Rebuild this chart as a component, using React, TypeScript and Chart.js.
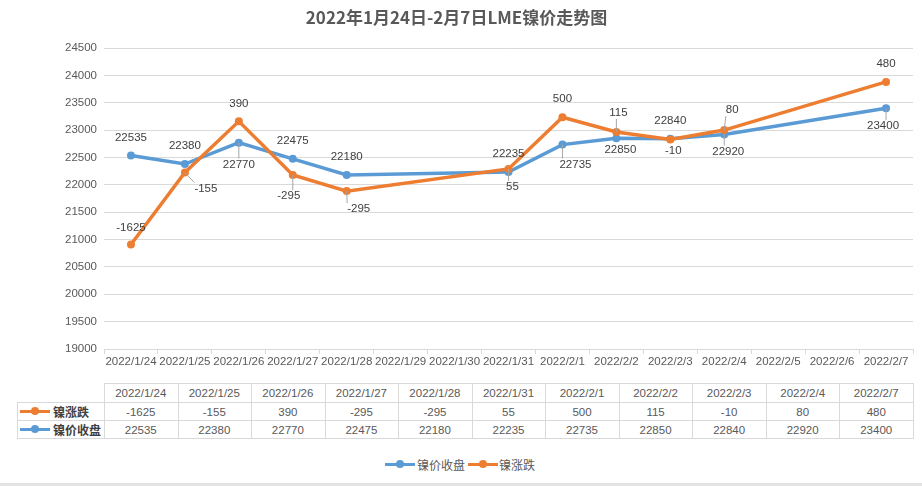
import React, { useEffect, useRef } from 'react';
import { Chart, registerables } from 'chart.js';

Chart.register(...registerables);

// ---------- data ----------
const TITLE = '2022年1月24日-2月7日LME镍价走势图';
const SERIES_CLOSE = '镍价收盘';
const SERIES_CHANGE = '镍涨跌';

const axisDates = [
  '2022/1/24', '2022/1/25', '2022/1/26', '2022/1/27', '2022/1/28', '2022/1/29', '2022/1/30',
  '2022/1/31', '2022/2/1', '2022/2/2', '2022/2/3', '2022/2/4', '2022/2/5', '2022/2/6', '2022/2/7',
];
const tradeDates = [
  '2022/1/24', '2022/1/25', '2022/1/26', '2022/1/27', '2022/1/28', '2022/1/31',
  '2022/2/1', '2022/2/2', '2022/2/3', '2022/2/4', '2022/2/7',
];
const closeValues = [22535, 22380, 22770, 22475, 22180, 22235, 22735, 22850, 22840, 22920, 23400];
const changeValues = [-1625, -155, 390, -295, -295, 55, 500, 115, -10, 80, 480];

const Y_MIN = 19000;
const Y_MAX = 24500;
const Y_STEP = 500;

// ---------- style ----------
const BLUE = '#5B9BD5';
const ORANGE = '#ED7D31';
const GRID = '#D9D9D9';
const TEXT = '#595959';
const NUM_FONT = '"Liberation Sans", Arial, sans-serif';
const CJK_FONT = '"Noto Sans CJK SC", "Noto Sans", sans-serif';

// label placement per point: [dx, dy, leaderLine]
const closeLabelPlace: [number, number, boolean][] = [
  [0, -18, false], [0, -18, false], [0, 22, true], [0, -18, false], [0, -18, false], [0, -18, false],
  [13, 20, true], [4, 12, false], [0, -18, false], [4, 17, true], [-3, 18, true],
];
const changeLabelPlace: [number, number, boolean][] = [
  [0, -17, false], [21, 16, true], [0, -18, false], [-4, 21, true], [12, 18, true], [4, 18, true],
  [0, -18, false], [2, -19, true], [3, 11, false], [8, -20, true], [0, -18, false],
];

const labelPlugin = {
  id: 'pointValueLabels',
  afterDatasetsDraw(chart: any) {
    const ctx = chart.ctx as CanvasRenderingContext2D;
    ctx.save();
    ctx.font = `11.5px ${NUM_FONT}`;
    ctx.textAlign = 'center';
    ctx.textBaseline = 'middle';
    chart.data.datasets.forEach((ds: any, di: number) => {
      const meta = chart.getDatasetMeta(di);
      const places = ds.labelPlace as [number, number, boolean][];
      const texts = ds.labelTexts as number[];
      meta.data.forEach((el: any, i: number) => {
        const [dx, dy, leader] = places[i];
        const txt = String(texts[i]);
        const lx = el.x + dx;
        const ly = el.y + dy;
        if (leader) {
          const w = ctx.measureText(txt).width;
          const h = 12;
          const tx = Math.max(lx - w / 2, Math.min(el.x, lx + w / 2));
          const ty = Math.max(ly - h / 2, Math.min(el.y, ly + h / 2));
          ctx.strokeStyle = '#A6A6A6';
          ctx.lineWidth = 1;
          ctx.beginPath();
          ctx.moveTo(el.x, el.y);
          ctx.lineTo(tx, ty);
          ctx.stroke();
        }
        ctx.fillStyle = '#404040';
        ctx.fillText(txt, lx, ly);
      });
    });
    ctx.restore();
  },
};

const COLS = tradeDates.length;
const TABLE_LEFT = 104;
const TABLE_RIGHT = 913;
const COL_W = (TABLE_RIGHT - TABLE_LEFT) / COLS;
const ROWS_Y = [383, 402, 420, 438];

function Marker({ color, left, top }: { color: string; left: number; top: number }) {
  return (
    <div style={{ position: 'absolute', left, top: top - 6, width: 30, height: 12 }}>
      <div style={{ position: 'absolute', left: 0, top: 4.5, width: 30, height: 3, background: color }} />
      <div
        style={{
          position: 'absolute', left: 11, top: 2, width: 8, height: 8, borderRadius: 4, background: color,
        }}
      />
    </div>
  );
}

export default function App() {
  const ref = useRef<HTMLCanvasElement>(null);

  useEffect(() => {
    const closeData = tradeDates.map((d, i) => ({ x: d, y: closeValues[i] }));
    const changeData = tradeDates.map((d, i) => ({ x: d, y: closeValues[i] + changeValues[i] }));
    const chart = new Chart(ref.current as HTMLCanvasElement, {
      type: 'line',
      data: {
        labels: axisDates,
        datasets: [
          {
            label: SERIES_CLOSE,
            data: closeData,
            borderColor: BLUE,
            backgroundColor: BLUE,
            borderWidth: 3.5,
            pointRadius: 4,
            pointBorderWidth: 0,
            pointBackgroundColor: BLUE,
            tension: 0,
            order: 1,
            labelPlace: closeLabelPlace,
            labelTexts: closeValues,
          } as any,
          {
            label: SERIES_CHANGE,
            data: changeData,
            borderColor: ORANGE,
            backgroundColor: ORANGE,
            borderWidth: 3.5,
            pointRadius: 4,
            pointBorderWidth: 0,
            pointBackgroundColor: ORANGE,
            tension: 0,
            order: 0,
            labelPlace: changeLabelPlace,
            labelTexts: changeValues,
          } as any,
        ],
      },
      options: {
        responsive: false,
        animation: false,
        layout: { padding: { left: 0, right: 9, top: 0, bottom: 0 } },
        plugins: {
          legend: { display: false },
          tooltip: { enabled: false },
          title: {
            display: true,
            text: TITLE,
            color: TEXT,
            font: { family: CJK_FONT, size: 17, weight: 'bold', lineHeight: 1.2 },
            padding: { top: 7, bottom: 20.6 },
          },
        },
        scales: {
          x: {
            type: 'category',
            offset: true,
            grid: { offset: true, drawOnChartArea: false, drawTicks: true, tickLength: 5, color: GRID },
            border: { display: true, color: GRID },
            ticks: {
              autoSkip: false, maxRotation: 0, minRotation: 0, padding: 1, color: TEXT,
              font: { family: NUM_FONT, size: 11.5 },
            },
            afterFit: (s: any) => { s.height = 31; },
          },
          y: {
            min: Y_MIN,
            max: Y_MAX,
            ticks: {
              stepSize: Y_STEP, padding: 7, color: TEXT, font: { family: NUM_FONT, size: 11.5 },
              callback: (v: any) => String(v),
            },
            grid: { color: GRID, drawTicks: false },
            border: { display: false },
            afterFit: (s: any) => { s.width = 104; },
          },
        },
      } as any,
      plugins: [labelPlugin],
    });
    return () => chart.destroy();
  }, []);

  const cellText: React.CSSProperties = {
    position: 'absolute', display: 'flex', alignItems: 'center', justifyContent: 'center',
    font: `11.5px ${NUM_FONT}`, color: TEXT, whiteSpace: 'nowrap',
  };

  return (
    <div style={{ position: 'absolute', left: 0, top: 0, width: 922, height: 486, background: '#fff', overflow: 'hidden' }}>
      <canvas ref={ref} width={922} height={380} style={{ position: 'absolute', left: 0, top: 0, width: 922, height: 380 }} />

      {/* data table lines */}
      <div style={{ position: 'absolute', left: TABLE_LEFT, top: ROWS_Y[0], width: TABLE_RIGHT - TABLE_LEFT + 1, height: 1, background: GRID }} />
      {ROWS_Y.slice(1).map((y) => (
        <div key={'h' + y} style={{ position: 'absolute', left: 17, top: y, width: TABLE_RIGHT - 17 + 1, height: 1, background: GRID }} />
      ))}
      <div style={{ position: 'absolute', left: 17, top: ROWS_Y[1], width: 1, height: ROWS_Y[3] - ROWS_Y[1] + 1, background: GRID }} />
      {Array.from({ length: COLS + 1 }, (_, j) => (
        <div key={'v' + j} style={{ position: 'absolute', left: Math.round(TABLE_LEFT + j * COL_W), top: ROWS_Y[0], width: 1, height: ROWS_Y[3] - ROWS_Y[0] + 1, background: GRID }} />
      ))}

      {/* data table texts */}
      {tradeDates.map((d, j) => (
        <div key={'d' + j} style={{ ...cellText, left: TABLE_LEFT + j * COL_W, top: ROWS_Y[0] + 1, width: COL_W, height: ROWS_Y[1] - ROWS_Y[0] - 1 }}>{d}</div>
      ))}
      {changeValues.map((v, j) => (
        <div key={'c' + j} style={{ ...cellText, left: TABLE_LEFT + j * COL_W, top: ROWS_Y[1] + 1, width: COL_W, height: ROWS_Y[2] - ROWS_Y[1] - 1 }}>{v}</div>
      ))}
      {closeValues.map((v, j) => (
        <div key={'p' + j} style={{ ...cellText, left: TABLE_LEFT + j * COL_W, top: ROWS_Y[2] + 1, width: COL_W, height: ROWS_Y[3] - ROWS_Y[2] - 1 }}>{v}</div>
      ))}

      {/* table series keys */}
      <Marker color={ORANGE} left={20} top={411} />
      <div style={{ position: 'absolute', left: 53, top: 402, height: 18, display: 'flex', alignItems: 'center', font: `bold 12px ${CJK_FONT}`, color: '#404040', whiteSpace: 'nowrap' }}>{SERIES_CHANGE}</div>
      <Marker color={BLUE} left={20} top={429} />
      <div style={{ position: 'absolute', left: 53, top: 420, height: 18, display: 'flex', alignItems: 'center', font: `bold 12px ${CJK_FONT}`, color: '#404040', whiteSpace: 'nowrap' }}>{SERIES_CLOSE}</div>

      {/* legend */}
      <Marker color={BLUE} left={385} top={464} />
      <div style={{ position: 'absolute', left: 417, top: 455, height: 18, display: 'flex', alignItems: 'center', font: `12px ${CJK_FONT}`, color: TEXT, whiteSpace: 'nowrap' }}>{SERIES_CLOSE}</div>
      <Marker color={ORANGE} left={468} top={464} />
      <div style={{ position: 'absolute', left: 499, top: 455, height: 18, display: 'flex', alignItems: 'center', font: `12px ${CJK_FONT}`, color: TEXT, whiteSpace: 'nowrap' }}>{SERIES_CHANGE}</div>

      <div style={{ position: 'absolute', left: 0, top: 483, width: 922, height: 3, background: '#E3E3E3' }} />
    </div>
  );
}
